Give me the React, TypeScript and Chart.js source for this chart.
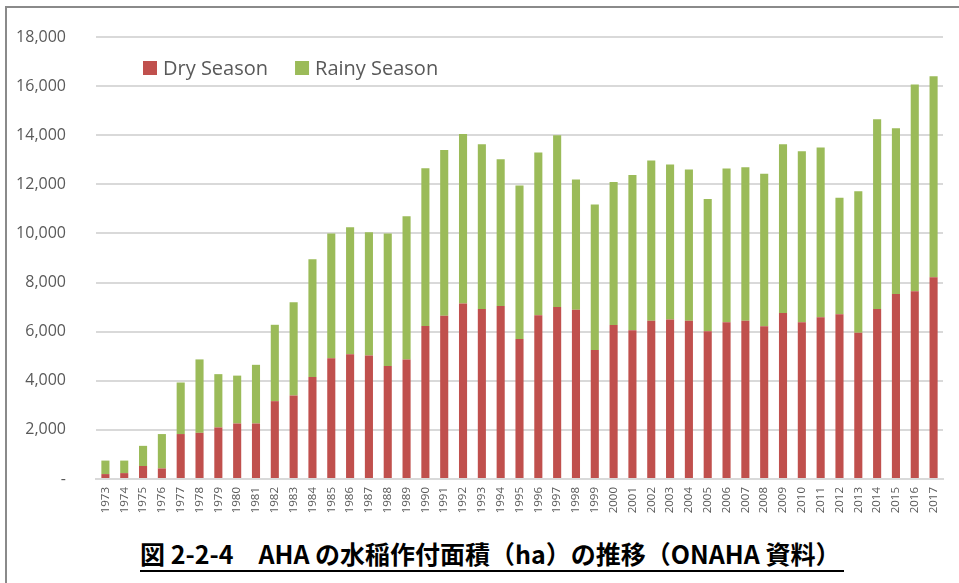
import React, { useEffect, useRef } from "react";
import { Chart, registerables } from "chart.js";

Chart.register(...registerables);

const years: string[] = [
  "1973","1974","1975","1976","1977","1978","1979","1980","1981","1982",
  "1983","1984","1985","1986","1987","1988","1989","1990","1991","1992",
  "1993","1994","1995","1996","1997","1998","1999","2000","2001","2002",
  "2003","2004","2005","2006","2007","2008","2009","2010","2011","2012",
  "2013","2014","2015","2016","2017",
];

const drySeason: number[] = [
  200, 240, 530, 430, 1830, 1880, 2100, 2260, 2260, 3170,
  3400, 4150, 4920, 5080, 5030, 4600, 4870, 6230, 6650, 7150,
  6920, 7050, 5700, 6670, 7000, 6890, 5250, 6270, 6060, 6440,
  6500, 6440, 6020, 6380, 6440, 6220, 6760, 6380, 6590, 6710,
  5960, 6920, 7530, 7650, 8220,
];

const totalArea: number[] = [
  750, 750, 1350, 1830, 3930, 4870, 4270, 4210, 4650, 6280,
  7200, 8950, 10000, 10250, 10050, 10000, 10700, 12650, 13400, 14050,
  13630, 13020, 11950, 13300, 14000, 12200, 11180, 12100, 12380, 12970,
  12810, 12600, 11400, 12640, 12700, 12430, 13630, 13350, 13500, 11450,
  11720, 14650, 14280, 16070, 16400,
];

const rainySeason: number[] = totalArea.map((t, i) => t - drySeason[i]);

const seriesNames = ["Dry Season", "Rainy Season"];
const seriesColors = ["#C0504D", "#9BBB59"];

const FONT = "'Open Sans', 'Liberation Sans', sans-serif";

const legendPlugin = {
  id: "insideLegend",
  afterDraw(chart: any) {
    const { ctx, chartArea } = chart;
    ctx.save();
    ctx.font = `20px ${FONT}`;
    ctx.textBaseline = "middle";
    let x = chartArea.left + 47;
    const y = chartArea.top + 31;
    seriesNames.forEach((name, i) => {
      ctx.fillStyle = seriesColors[i];
      ctx.fillRect(x, y - 7, 14, 14);
      ctx.fillStyle = "#595959";
      ctx.textAlign = "left";
      ctx.fillText(name, x + 20, y + 1);
      x += 20 + ctx.measureText(name).width + 27;
    });
    ctx.restore();
  },
};

export default function App() {
  const ref = useRef<HTMLCanvasElement | null>(null);

  useEffect(() => {
    if (!ref.current) return;
    const chart = new Chart(ref.current, {
      type: "bar",
      data: {
        labels: years,
        datasets: [
          {
            label: seriesNames[0],
            data: drySeason,
            backgroundColor: seriesColors[0],
            barPercentage: 0.43,
            categoryPercentage: 1,
          },
          {
            label: seriesNames[1],
            data: rainySeason,
            backgroundColor: seriesColors[1],
            barPercentage: 0.43,
            categoryPercentage: 1,
          },
        ],
      },
      options: {
        responsive: false,
        animation: false,
        layout: { padding: { top: 30, right: 16, left: 0, bottom: 0 } },
        plugins: {
          legend: { display: false },
          tooltip: { enabled: false },
        },
        scales: {
          x: {
            stacked: true,
            grid: { display: false, drawTicks: false },
            border: { display: true, color: "#d9d9d9", width: 2 },
            ticks: {
              minRotation: 90,
              maxRotation: 90,
              autoSkip: false,
              padding: 8,
              color: "#595959",
              font: { family: FONT, size: 11.5 },
            },
            afterFit: (scale: any) => {
              scale.height = 48;
              scale.paddingLeft = 0;
              scale.paddingRight = 0;
              scale.paddingTop = 0;
              scale.paddingBottom = 0;
            },
          },
          y: {
            stacked: true,
            min: 0,
            max: 18000,
            grid: { color: "#d9d9d9", lineWidth: 2, drawTicks: false },
            border: { display: false },
            ticks: {
              stepSize: 2000,
              padding: 30,
              color: "#595959",
              font: { family: FONT, size: 16 },
              callback: (v: any) => (Number(v) === 0 ? "-" : Number(v).toLocaleString("en-US")),
            },
            afterFit: (scale: any) => {
              scale.width = 90;
              scale.paddingTop = 0;
              scale.paddingBottom = 0;
              scale.paddingLeft = 0;
              scale.paddingRight = 0;
            },
          },
        },
      },
      plugins: [legendPlugin],
    });
    return () => chart.destroy();
  }, []);

  return (
    <div
      style={{
        position: "fixed",
        left: 0,
        top: 0,
        width: 959,
        height: 583,
        background: "#fff",
        overflow: "hidden",
      }}
    >
      <div
        style={{
          position: "absolute",
          left: 5,
          top: 6,
          width: 1000,
          height: 700,
          borderLeft: "2px solid #8a8a8a",
          borderTop: "2px solid #8a8a8a",
          boxSizing: "border-box",
        }}
      />
      <canvas
        ref={ref}
        width={953}
        height={520}
        style={{ position: "absolute", left: 6, top: 7, width: 953, height: 520 }}
      />
      <div
        style={{
          position: "absolute",
          left: 140,
          top: 537,
          width: 704,
          fontFamily: "'Noto Sans CJK JP', sans-serif",
          fontWeight: 700,
          fontSize: 25,
          lineHeight: "33px",
          color: "#000",
          whiteSpace: "nowrap",
          borderBottom: "2px solid #000",
          textAlign: "left",
        }}
      >
        図 2-2-4　AHA の水稲作付面積（ha）の推移（ONAHA 資料）
      </div>
    </div>
  );
}
